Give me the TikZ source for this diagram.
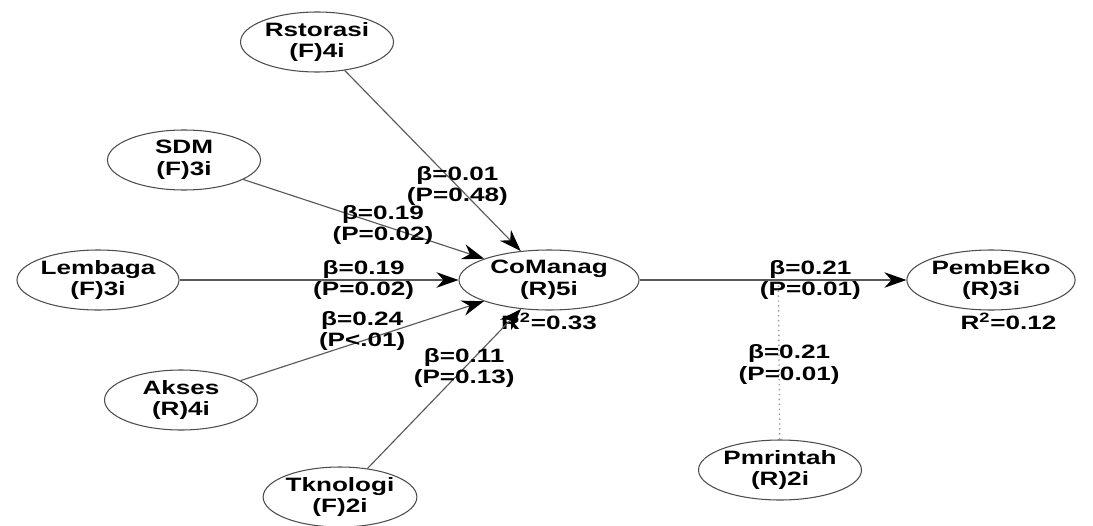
\documentclass[tikz,border=0pt]{standalone}
\usepackage{fontspec}
\setmainfont{Liberation Sans}[FakeStretch=1.35]
\usetikzlibrary{arrows.meta, shapes.geometric}

\begin{document}
\begin{tikzpicture}
      \tikzset{latent/.style={draw=black!70, line width=0.6pt, ellipse, inner sep=0pt, minimum width=3.06cm, minimum height=1.2cm, align=center, font=\fontsize{11}{12.5}\selectfont\bfseries},
               path/.style={draw=black!65, line width=0.65pt, -{Stealth[length=4.4mm, width=3.1mm, inset=1.4mm, black]}},
               coef/.style={align=center, text=black, font=\fontsize{11}{12}\selectfont\bfseries, inner sep=0pt}}
      \useasboundingbox (0,0) rectangle (21.86,10.5);

      \node[latent] (R) at (6.34,9.66) {Rstorasi\\(F)4i};
      \node[latent] (S) at (3.68,7.3) {SDM\\(F)3i};
      \node[latent] (L) at (1.96,4.9) {Lembaga\\(F)3i};
      \node[latent] (A) at (3.62,2.5) {Akses\\(R)4i};
      \node[latent] (T) at (6.8,0.56) {Tknologi\\(F)2i};
      \node[latent, minimum width=3.6cm, label={[coef, yshift=-0.05cm]below:R\textsuperscript{2}=0.33}] (C) at (10.98,4.9) {CoManag\\(R)5i};
      \node[latent, minimum width=2.98cm, label={[coef, xshift=0.35cm, yshift=-0.05cm]below:R\textsuperscript{2}=0.12}] (P) at (19.82,4.9) {PembEko\\(R)3i};
      \node[latent, minimum width=3.26cm] (M) at (15.6,1.1) {Pmrintah\\(R)2i};

      \draw[path] (R) -- (C) node[coef, pos=0.64] (e1) {β=0.01\\(P=0.48)};
      \draw[path] (S) -- (C) node[coef, pos=0.58] (e2) {β=0.19\\(P=0.02)};
      \draw[path] (L) -- (C) node[coef, pos=0.66] (e3) {β=0.19\\(P=0.02)};
      \draw[path] (A) -- (C) node[coef, pos=0.5, yshift=0.2cm] (e4) {β=0.24\\(P<.01)};
      \draw[path] (T) -- (C) node[coef, pos=0.63] (e5) {β=0.11\\(P=0.13)};
      \draw[path] (C) -- (P) node[coef, pos=0.64] (e6) {β=0.21\\(P=0.01)}
                             coordinate[pos=0.52] (mod);
      \draw[black!40, dotted, thick] (M) -- (mod) node[coef, pos=0.47, xshift=0.2cm] (e7) {β=0.21\\(P=0.01)};
\end{tikzpicture}
\end{document}
